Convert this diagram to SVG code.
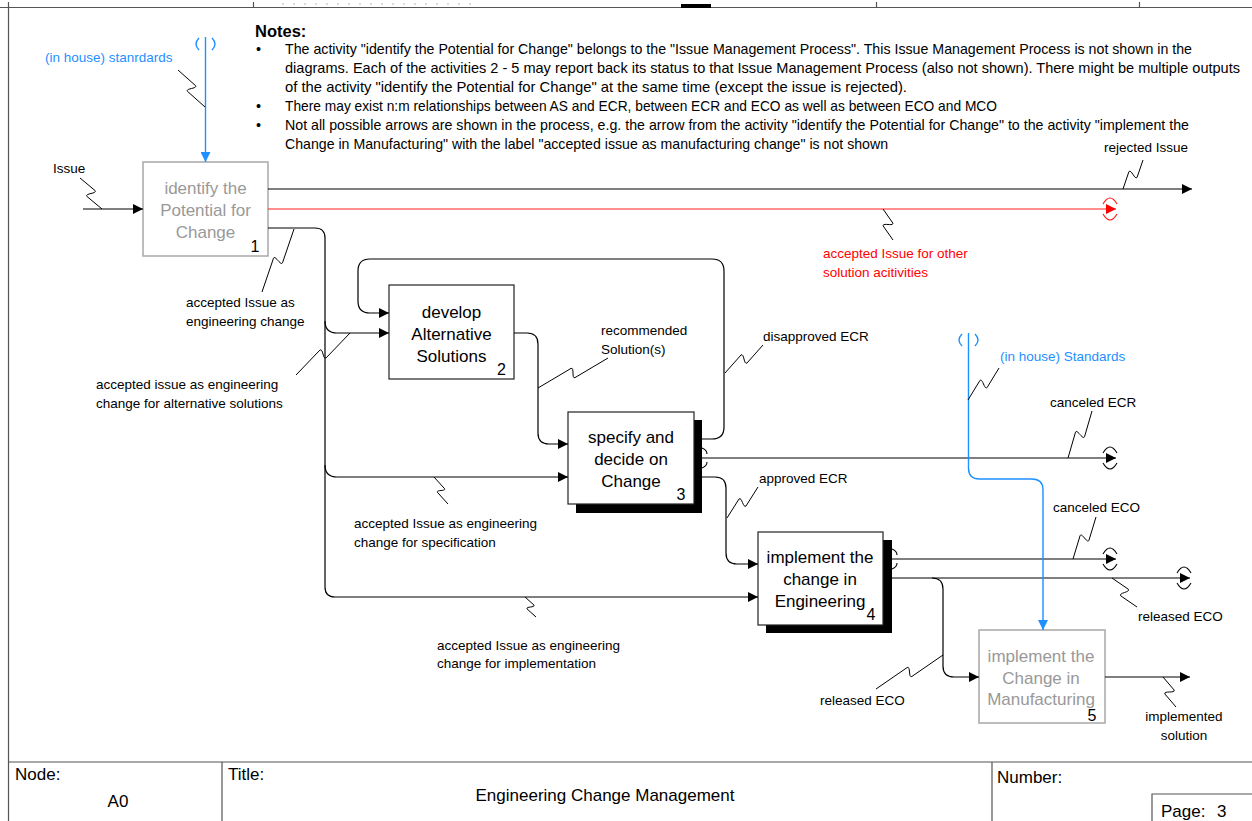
<svg xmlns="http://www.w3.org/2000/svg" xmlns:xlink="http://www.w3.org/1999/xlink" width="1252" height="821" viewBox="0 0 1252 821">
  <style>
    text { font-family: "Liberation Sans", Arial, Helvetica, sans-serif; fill: #000; }
    .ln { fill: none; stroke: #000; stroke-width: 1.2; }
    .red { fill: none; stroke: #ff2020; stroke-width: 1.2; }
    .blue { fill: none; stroke: #1e90ff; stroke-width: 1.4; }
    .sq { fill: none; stroke: #000; stroke-width: 1; }
    .tun { fill: none; stroke: #000; stroke-width: 1.1; }
    .lbl { font-size: 13.5px; }
    .rlbl { font-size: 13.5px; fill: #ff0000; }
    .blbl { font-size: 13.5px; fill: #1e90ff; }
    .box { fill: #fff; stroke: #222; stroke-width: 1.2; }
    .gbox { fill: #fff; stroke: #a8a8a8; stroke-width: 1.5; }
    .shadow { fill: #000; }
    .bt { font-size: 17px; text-anchor: middle; }
    .gt { font-size: 17px; text-anchor: middle; fill: #999; }
    .num { font-size: 16px; text-anchor: middle; }
    .note { font-size: 14.4px; }
    .tb { font-size: 17px; }
    .frame { fill: none; stroke: #555; stroke-width: 1.2; }
  </style>
  <defs>
    <marker id="ah" markerUnits="userSpaceOnUse" markerWidth="10" markerHeight="10" refX="10" refY="5" orient="auto">
      <path d="M0,0 L10,5 L0,10 z" fill="#000"/>
    </marker>
    <marker id="ahr" markerUnits="userSpaceOnUse" markerWidth="10" markerHeight="10" refX="10" refY="5" orient="auto">
      <path d="M0,0 L10,5 L0,10 z" fill="#ff0000"/>
    </marker>
    <marker id="ahb" markerUnits="userSpaceOnUse" markerWidth="10" markerHeight="10" refX="10" refY="5" orient="auto">
      <path d="M0,0 L10,5 L0,10 z" fill="#1e90ff"/>
    </marker>
    <!-- tunnel brackets around an arrow tip -->
    <path id="tunEnd" d="M-7,-5 Q0,-17 7,-5 M-7,5 Q0,17 7,5"/>
    <!-- tunnel brackets where an arrow leaves a box -->
    <path id="tunSrc" d="M0,-10 Q5,-8 5,-4 M0,10 Q5,8 5,4"/>
  </defs>

  <rect width="1252" height="821" fill="#fff"/>

  <!-- sheet frame -->
  <g id="frame">
    <path class="frame" d="M0,7.5 H1252 M8.5,7 V821"/>
    <path class="frame" d="M8.5,2 V7 M253.5,2 V7 M876.5,2 V7 M1139.5,2 V7"/>
    <rect x="681" y="4" width="30" height="4" fill="#000"/>
    <path d="M282,4 H480" stroke="#d0d0d0" stroke-width="1.5" stroke-dasharray="2 9"/>
  </g>

  <!-- notes -->
  <g id="notes">
    <text x="255" y="37" style="font-size:16.5px;font-weight:bold">Notes:</text>
    <text class="note" x="256" y="54">•</text>
    <text class="note" x="285" y="54" textLength="907" lengthAdjust="spacingAndGlyphs">The activity "identify the Potential for Change" belongs to the "Issue Management Process". This Issue Management Process is not shown in the</text>
    <text class="note" x="285" y="73" textLength="955" lengthAdjust="spacingAndGlyphs">diagrams. Each of the activities 2 - 5 may report back its status to that Issue Management Process (also not shown). There might be multiple outputs</text>
    <text class="note" x="285" y="92" textLength="622" lengthAdjust="spacingAndGlyphs">of the activity "identify the Potential for Change" at the same time (except the issue is rejected).</text>
    <text class="note" x="256" y="111">•</text>
    <text class="note" x="285" y="111" textLength="712" lengthAdjust="spacingAndGlyphs">There may exist n:m relationships between AS and ECR, between ECR and ECO as well as between ECO and MCO</text>
    <text class="note" x="256" y="130">•</text>
    <text class="note" x="285" y="130" textLength="904" lengthAdjust="spacingAndGlyphs">Not all possible arrows are shown in the process, e.g. the arrow from the activity "identify the Potential for Change" to the activity "implement the</text>
    <text class="note" x="285" y="149" textLength="603" lengthAdjust="spacingAndGlyphs">Change in Manufacturing" with the label "accepted issue as manufacturing change" is not shown</text>
  </g>

  <!-- nodes -->
  <g id="n1">
    <rect class="gbox" x="143" y="162" width="125" height="94"/>
    <text class="gt" x="205.5" y="194">identify the</text>
    <text class="gt" x="205.5" y="216">Potential for</text>
    <text class="gt" x="205.5" y="238">Change</text>
    <text class="num" x="255" y="252">1</text>
  </g>
  <g id="n2">
    <rect class="box" x="389" y="285" width="125" height="94"/>
    <text class="bt" x="451.5" y="318">develop</text>
    <text class="bt" x="451.5" y="340">Alternative</text>
    <text class="bt" x="451.5" y="362">Solutions</text>
    <text class="num" x="501.5" y="375">2</text>
  </g>
  <g id="n3">
    <rect class="shadow" x="576" y="420" width="126" height="93"/>
    <rect class="box" x="568" y="412" width="126" height="92"/>
    <text class="bt" x="631" y="443">specify and</text>
    <text class="bt" x="631" y="465">decide on</text>
    <text class="bt" x="631" y="487">Change</text>
    <text class="num" x="681" y="500">3</text>
  </g>
  <g id="n4">
    <rect class="shadow" x="766" y="540" width="126" height="93"/>
    <rect class="box" x="758" y="532" width="125" height="93"/>
    <text class="bt" x="820" y="563">implement the</text>
    <text class="bt" x="820" y="585">change in</text>
    <text class="bt" x="820" y="607">Engineering</text>
    <text class="num" x="871" y="620">4</text>
  </g>
  <g id="n5">
    <rect class="gbox" x="979" y="630" width="126" height="93"/>
    <text class="gt" x="1041" y="662">implement the</text>
    <text class="gt" x="1041" y="684">Change in</text>
    <text class="gt" x="1041" y="705">Manufacturing</text>
    <text class="num" x="1092" y="721">5</text>
  </g>

  <!-- connectors -->
  <g id="connectors">
    <!-- Issue -> 1 -->
    <path class="ln" d="M83,209 H143" marker-end="url(#ah)"/>
    <!-- standards -> 1 (control) -->
    <path class="blue" d="M205.5,37 V162" marker-end="url(#ahb)"/>
    <path class="blue" d="M199,38 Q193,44 199,50 M212,38 Q218,44 212,50"/>
    <!-- rejected Issue -->
    <path class="ln" d="M268,189 H1192" marker-end="url(#ah)"/>
    <!-- accepted Issue for other solution activities -->
    <path class="red" d="M268,209 H1116" marker-end="url(#ahr)"/>
    <use href="#tunEnd" x="1110" y="209" class="red"/>
    <!-- accepted Issue as engineering change: trunk and branches -->
    <path class="ln" d="M268,228 H315 Q325,228 325,238 V587 Q325,597 335,597 H758" marker-end="url(#ah)"/>
    <path class="ln" d="M325,321 Q325,333 337,333 H389" marker-end="url(#ah)"/>
    <path class="ln" d="M325,465 Q325,477 337,477 H568" marker-end="url(#ah)"/>
    <!-- recommended Solution(s): 2 -> 3 -->
    <path class="ln" d="M514,333 H527 Q538,333 538,344 V433 Q538,444 549,444 H568" marker-end="url(#ah)"/>
    <!-- disapproved ECR: 3 -> 2 -->
    <path class="ln" d="M702,439 H712 Q724,439 724,427 V271 Q724,259 712,259 H370 Q358,259 358,271 V301 Q358,313 370,313 H389" marker-end="url(#ah)"/>
    <!-- canceled ECR -->
    <path class="ln" d="M702,458 H1116" marker-end="url(#ah)"/>
    <use href="#tunSrc" x="702" y="458" class="tun"/>
    <use href="#tunEnd" x="1110" y="458" class="tun"/>
    <!-- approved ECR: 3 -> 4 -->
    <path class="ln" d="M702,477 H715 Q726,477 726,488 V553 Q726,564 737,564 H758" marker-end="url(#ah)"/>
    <!-- canceled ECO -->
    <path class="ln" d="M892,559 H1116" marker-end="url(#ah)"/>
    <use href="#tunSrc" x="892" y="559" class="tun"/>
    <use href="#tunEnd" x="1110" y="559" class="tun"/>
    <!-- released ECO -->
    <path class="ln" d="M892,578 H1190" marker-end="url(#ah)"/>
    <use href="#tunEnd" x="1184" y="578" class="tun"/>
    <path class="ln" d="M932,578 Q943,578 943,589 V666 Q943,677 954,677 H979" marker-end="url(#ah)"/>
    <!-- standards -> 5 (control) -->
    <path class="blue" d="M968.5,333 V468 Q968.5,479 979.5,479 H1032 Q1043,479 1043,490 V630" marker-end="url(#ahb)"/>
    <path class="blue" d="M962,334 Q956,340 962,346 M975,334 Q981,340 975,346"/>
    <!-- implemented solution -->
    <path class="ln" d="M1105,677 H1190" marker-end="url(#ah)"/>

    <!-- label leaders -->
    <path class="sq" d="M80,178 L95.1,190.6 C97.4,193.9 84.6,193.1 86.9,196.4 L102,209"/>
    <path class="sq" d="M178,70 L195.5,85.6 C197.9,88.8 185.1,88.2 187.5,91.4 L205,107"/>
    <path class="sq" d="M1143,160 L1137.1,177.3 C1134.8,180.6 1131.2,168.4 1128.9,171.7 L1123,189"/>
    <path class="sq" d="M893,240 L883.2,226 C882,222.2 894,226.8 892.8,223 L883,209"/>
    <path class="sq" d="M262,292 L273.5,258.2 C275.3,254.6 280.7,266.4 282.5,262.8 L294,229"/>
    <path class="sq" d="M296,375 L319.9,350.1 C323.1,347.6 322.9,360.4 326.1,357.9 L350,333"/>
    <path class="sq" d="M608,358 L575,377.6 C571.3,379.2 574.7,366.8 571,368.4 L538,388"/>
    <path class="sq" d="M763,345 L747,363 C743.8,365.4 744.2,352.6 741,355 L725,373"/>
    <path class="sq" d="M1092,411 L1084.5,436.8 C1082.7,440.4 1077.3,428.6 1075.5,432.2 L1068,458"/>
    <path class="sq" d="M758,487 L746,506 C743.2,508.8 741.8,496.2 739,499 L727,518"/>
    <path class="sq" d="M1096,517 L1088.9,540.4 C1087,543.9 1082,532.1 1080.1,535.6 L1073,559"/>
    <path class="sq" d="M1137,607 L1120.7,595.8 C1118.1,592.8 1130.9,592.2 1128.3,589.2 L1112,578"/>
    <path class="sq" d="M876,689 L907.2,667.5 C910.8,665.7 908.2,678.3 911.8,676.5 L943,655"/>
    <path class="sq" d="M999,368 L987.1,387.5 C984.3,390.4 982.7,377.6 979.9,380.5 L968,400"/>
    <path class="sq" d="M1176,707 L1164.9,694 C1163.3,690.3 1175.7,693.7 1174.1,690 L1163,677"/>
    <path class="sq" d="M448,504 L437.4,492.3 C436,489.6 446,491.4 444.6,488.7 L434,477"/>
    <path class="sq" d="M536,617 L527,608.9 C525.6,606.3 535.4,607.7 534,605.1 L525,597"/>
  </g>

  <!-- connector labels -->
  <g id="labels">
    <text class="lbl" x="53" y="173">Issue</text>
    <text class="blbl" x="45" y="62">(in house) stanrdards</text>
    <text class="lbl" x="1104" y="152">rejected Issue</text>
    <text class="rlbl" x="823" y="258">accepted Issue for other</text>
    <text class="rlbl" x="823" y="277">solution acitivities</text>
    <text class="lbl" x="186" y="307">accepted Issue as</text>
    <text class="lbl" x="186" y="326">engineering change</text>
    <text class="lbl" x="96" y="389">accepted issue as engineering</text>
    <text class="lbl" x="96" y="408">change for alternative solutions</text>
    <text class="lbl" x="601" y="335">recommended</text>
    <text class="lbl" x="601" y="354">Solution(s)</text>
    <text class="lbl" x="763" y="341">disapproved ECR</text>
    <text class="lbl" x="1050" y="407">canceled ECR</text>
    <text class="lbl" x="759" y="483">approved ECR</text>
    <text class="lbl" x="1053" y="512">canceled ECO</text>
    <text class="lbl" x="1138" y="621">released ECO</text>
    <text class="blbl" x="1000" y="361">(in house) Standards</text>
    <text class="lbl" x="820" y="705">released ECO</text>
    <text class="lbl" x="1184" y="721" text-anchor="middle">implemented</text>
    <text class="lbl" x="1184" y="740" text-anchor="middle">solution</text>
    <text class="lbl" x="354" y="528">accepted Issue as engineering</text>
    <text class="lbl" x="354" y="547">change for specification</text>
    <text class="lbl" x="437" y="650">accepted Issue as engineering</text>
    <text class="lbl" x="437" y="668">change for implementation</text>
  </g>

  <!-- title block -->
  <g id="titleblock">
    <path class="frame" d="M8,762 H1252 M222,762 V821 M992,762 V821 M1152,821 V794 H1252"/>
    <text class="tb" x="15" y="780">Node:</text>
    <text class="tb" x="118" y="807" text-anchor="middle">A0</text>
    <text class="tb" x="228" y="780">Title:</text>
    <text class="tb" x="605" y="801" text-anchor="middle">Engineering Change Management</text>
    <text class="tb" x="997" y="783">Number:</text>
    <text class="tb" x="1161" y="817">Page:</text>
    <text class="tb" x="1217" y="817">3</text>
  </g>
</svg>
